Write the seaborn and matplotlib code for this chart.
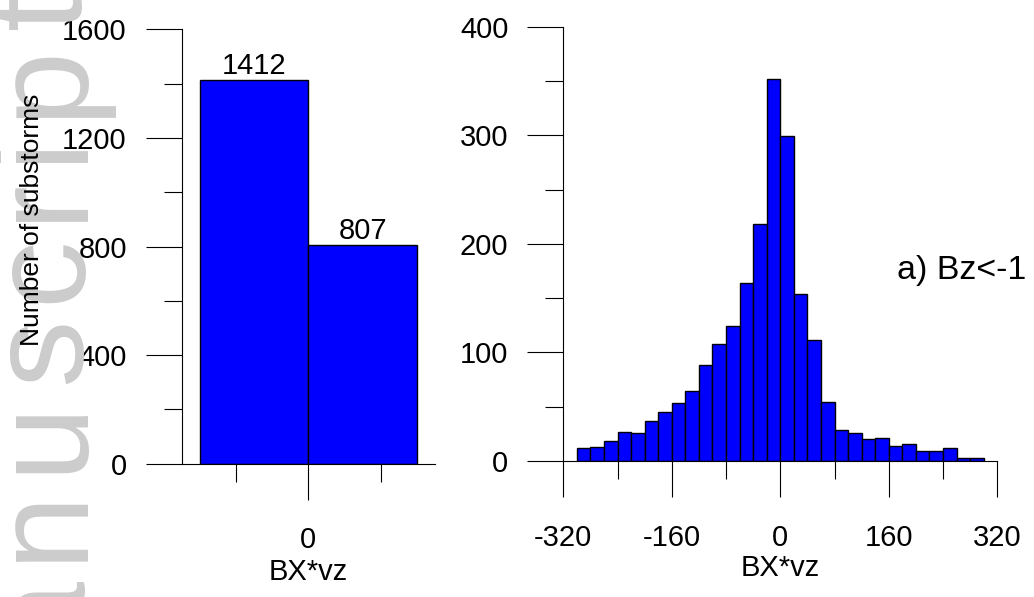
import matplotlib
matplotlib.use("Agg")
import matplotlib.pyplot as plt
import seaborn as sns
from matplotlib import font_manager, ft2font
from matplotlib.ticker import MultipleLocator, FixedLocator

# Substorm counts split by the sign of BX*vz
sign_centres = [-0.75, 0.75]
sign_counts = [1412, 807]
sign_edges = [-1.5, 0.0, 1.5]

# Distribution of BX*vz, 20-unit bins from -300 to 300
hist_edges = list(range(-300, 301, 20))
hist_counts = [12, 13, 18, 27, 26, 37, 45, 53, 64, 88, 108, 124, 164, 218, 352,
               299, 154, 111, 54, 29, 26, 20, 21, 14, 16, 9, 9, 12, 3, 3]
hist_centres = [(a + b) / 2 for a, b in zip(hist_edges[:-1], hist_edges[1:])]

xlabel_text = "BX*vz"
ylabel_text = "Number of substorms"
panel_text = "a) Bz<-1 nT"
stamp_text = "manuscript"

sns.set_style("ticks")
plt.rcParams["font.family"] = ["Liberation Sans", "DejaVu Sans"]
plt.rcParams["axes.unicode_minus"] = False
for key in ("text.color", "axes.labelcolor", "xtick.color", "ytick.color",
            "axes.edgecolor"):
    plt.rcParams[key] = "black"

FS = 21
BAR_COLOR = "#0000ff"
W, H = 1034, 597

fig = plt.figure(figsize=(W / 100, H / 100), dpi=100)

# Letter-spaced stamp running up the left edge
stamp_pt = 97
stamp_track_px = 14
stamp_base_x = 80
stamp_color = "#cccccc"
ft = ft2font.FT2Font(font_manager.findfont(font_manager.FontProperties(family="Liberation Sans")))
ft.set_size(stamp_pt, 100)
advances = []
for ch in stamp_text:
    g = ft.load_char(ord(ch))
    advances.append(g.linearHoriAdvance / 65536)
y_end = -8.0  # pixels from the top where the last letter ends
pos = y_end
starts = []
for adv in reversed(advances):
    start = pos + adv
    starts.append(start)
    pos = start + stamp_track_px
for ch, start in zip(reversed(stamp_text), starts):
    fig.text(stamp_base_x / W, 1 - start / H, ch, rotation=90, rotation_mode="anchor",
             ha="left", va="baseline", fontsize=stamp_pt, color=stamp_color, zorder=0)


def style_axes(ax):
    for side in ("top", "right"):
        ax.spines[side].set_visible(False)
    for side in ("left", "bottom"):
        ax.spines[side].set_linewidth(0.8)
        ax.spines[side].set_color("black")
    ax.tick_params(which="major", direction="out", length=26, width=0.8,
                   color="black", labelcolor="black", labelsize=FS)
    ax.tick_params(axis="y", which="major", pad=13.5)
    ax.tick_params(axis="x", which="major", pad=19)
    ax.tick_params(which="minor", direction="out", length=13, width=0.8,
                   color="black")
    ax.set_facecolor("none")


# Left panel: two-bar split
ax1 = fig.add_axes([181.7 / W, (H - 463.7) / H, 253.3 / W, 434.3 / H])
sns.histplot(x=sign_centres, weights=sign_counts, bins=sign_edges, ax=ax1,
             color=BAR_COLOR, alpha=1, edgecolor="black", linewidth=1)
ax1.set_xlim(-1.75, 1.75)
ax1.set_ylim(0, 1600)
ax1.set_yticks([0, 400, 800, 1200, 1600])
ax1.yaxis.set_minor_locator(MultipleLocator(200))
ax1.set_xticks([0])
ax1.set_xticklabels(["0"])
ax1.xaxis.set_minor_locator(FixedLocator([-1, 1]))
style_axes(ax1)
ax1.set_ylabel("")
ax1.set_xlabel(xlabel_text, fontsize=FS, labelpad=3, color="black")
ax1.bar_label(ax1.containers[0], fmt="%d", fontsize=FS, padding=0, color="black")

fig.text(32.5 / W, 1 - 220 / H, ylabel_text, rotation=90,
         ha="center", va="center", fontsize=19, color="black")

# Right panel: histogram of BX*vz
ax2 = fig.add_axes([563.3 / W, (H - 461) / H, 434 / W, 434.4 / H])
sns.histplot(x=hist_centres, weights=hist_counts, bins=hist_edges, ax=ax2,
             color=BAR_COLOR, alpha=1, edgecolor="black", linewidth=1)
ax2.set_xlim(-320, 320)
ax2.set_ylim(0, 400)
ax2.set_xticks([-320, -160, 0, 160, 320])
ax2.xaxis.set_minor_locator(MultipleLocator(80))
ax2.set_yticks([0, 100, 200, 300, 400])
ax2.yaxis.set_minor_locator(MultipleLocator(50))
style_axes(ax2)
ax2.set_ylabel("")
ax2.set_xlabel(xlabel_text, fontsize=FS, labelpad=2, color="black")

fig.text(897 / W, 1 - 279.5 / H, panel_text, ha="left", va="baseline",
         fontsize=24.5, color="black")

fig.savefig("out.png", dpi=100)
